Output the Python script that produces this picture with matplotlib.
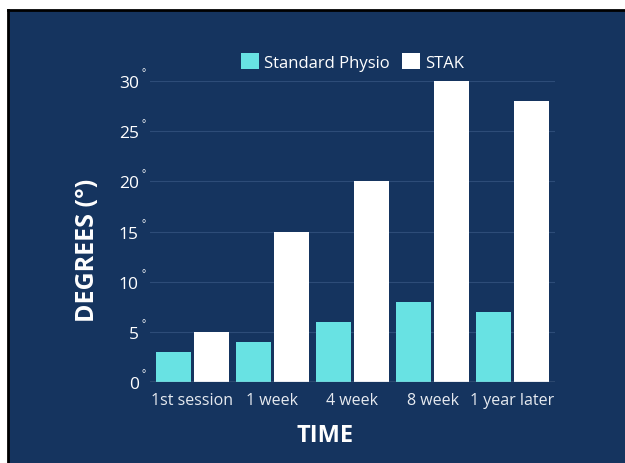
import matplotlib
matplotlib.use("Agg")
import matplotlib.pyplot as plt
import numpy as np
from matplotlib.lines import Line2D

categories = ["1st session", "1 week", "4 week", "8 week", "1 year later"]
standard_physio = [3, 4, 6, 8, 7]
stak = [5, 15, 20, 30, 28]
yticks = [0, 5, 10, 15, 20, 25, 30]

NAVY = "#15345f"
CYAN = "#68e2e3"
WHITE = "#ffffff"
FONT = ["Open Sans", "DejaVu Sans"]

fig = plt.figure(figsize=(6.25, 4.64), dpi=100)
fig.patch.set_facecolor("white")
W, H = 625, 464
panel = plt.Rectangle((8 / W, 0), 1 - 8 / W, 1 - 11 / H, transform=fig.transFigure,
                      facecolor=NAVY, edgecolor="none", zorder=-10)
fig.add_artist(panel)
fig.add_artist(Line2D([8 / W, 1], [1 - 11 / H, 1 - 11 / H], color="black", lw=2,
                      transform=fig.transFigure, zorder=-9))
fig.add_artist(Line2D([8 / W, 8 / W], [0, 1 - 11 / H], color="black", lw=2,
                      transform=fig.transFigure, zorder=-9))

ax = fig.add_axes([150 / W, 1 - 383 / H, 405 / W, (383 - 82) / H])
ax.set_zorder(1)
ax.set_facecolor("none")
x = np.arange(len(categories))
bw = 0.44
off = 0.24
ax.bar(x - off, standard_physio, bw, color=CYAN, zorder=3, label="Standard Physio")
ax.bar(x + off, stak, bw, color=WHITE, zorder=3, label="STAK")
ax.set_xlim(-0.53, len(categories) - 0.47)
ax.set_ylim(0, 30)
for s in ax.spines.values():
    s.set_visible(False)
for t in yticks[1:]:
    ax.axhline(t, color="#2d4c78", lw=0.8, zorder=1)
ax.axhline(0, color="#8c9bb3", lw=1.0, zorder=4)
ax.set_yticks(yticks)
ax.set_yticklabels([str(t) for t in yticks], fontsize=12.5, color=WHITE, family=FONT)
ax.set_xticks(x)
ax.set_xticklabels(categories, fontsize=11.5, color="#e6eaf0", family=FONT)
ax.tick_params(length=0, pad=7)
ax.tick_params(axis="y", pad=8)
for t in yticks:
    ax.text(-0.02, t + 0.8, "°", transform=ax.get_yaxis_transform(), fontsize=7,
            color=WHITE, family=FONT, ha="left", va="center")

ax.set_ylabel("DEGREES (°)", fontsize=18, fontweight="bold", color=WHITE, family=FONT)
ax.yaxis.set_label_coords(-0.155, 0.44)
ax.set_xlabel("TIME", fontsize=17, fontweight="bold", color=WHITE, family=FONT)
ax.xaxis.set_label_coords(0.432, -0.175)
ax.xaxis.label.set_va("center")
ax.yaxis.label.set_va("center")

leg = ax.legend(loc="lower center", bbox_to_anchor=(0.5, 1.0), ncol=2, frameon=False,
                prop={"family": FONT, "size": 12}, handlelength=1.1, handleheight=1.1,
                columnspacing=0.7, handletextpad=0.3, borderaxespad=0.2)
for txt in leg.get_texts():
    txt.set_color(WHITE)

fig.savefig("out.png", dpi=100, facecolor=fig.get_facecolor())
